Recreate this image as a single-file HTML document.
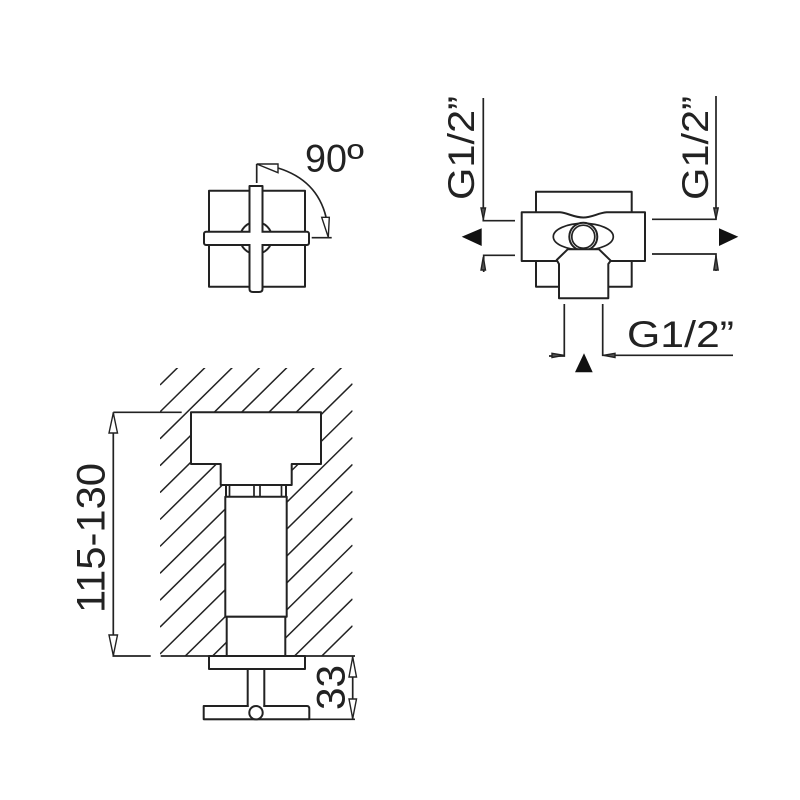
<!DOCTYPE html>
<html>
<head>
<meta charset="utf-8">
<style>
html,body{margin:0;padding:0;background:#fff}
svg{display:block}
text{font-family:"Liberation Sans",sans-serif;fill:#222}
.l{stroke:#222;stroke-width:1.7;fill:none}
.b{stroke:#222;stroke-width:2;fill:#fff;stroke-linejoin:round}
.t{stroke:#222;stroke-width:1.4;fill:#fff}
.h{stroke:#222;stroke-width:1.5}
</style>
</head>
<body>
<svg width="800" height="800" viewBox="0 0 800 800" xmlns="http://www.w3.org/2000/svg">
<defs><clipPath id="c"><rect x="160" y="368" width="192.500" height="288"/></clipPath></defs>

<!-- Top view handle -->
<rect class="b" x="209" y="190.700" width="96" height="96"/>
<circle class="b" cx="256" cy="238" r="16"/>
<path class="b" d="M249.500 186H262.500V289Q262.500 292 259 292H253Q249.500 292 249.500 289Z"/>
<rect class="b" x="204" y="231.700" width="105" height="13.300" rx="2"/>
<path fill="#fff" d="M250.500 230H261.500V246.500H250.500Z"/>
<path class="l" d="M256.700 183V164"/>
<path class="t" d="M256.700 164H278V172.700Z"/>
<path class="l" d="M278 168Q317 180 326 217"/>
<path class="t" d="M321.700 217.300H329.300L328.300 237.300Z"/>
<path class="l" d="M311.700 237.700H331.700"/>
<text x="305" y="171.700" font-size="39" textLength="42" lengthAdjust="spacingAndGlyphs">90</text>
<text x="347" y="171.700" font-size="39" textLength="17" lengthAdjust="spacingAndGlyphs">º</text>

<!-- Valve top right -->
<rect class="b" x="536" y="191.700" width="95.700" height="95"/>
<path class="b" d="M521.700 212.300H560C568 213 574 217.500 583.300 217.500C592 217.500 598 213 606.700 212.300H645V261H521.700Z"/>
<ellipse class="l" cx="583.300" cy="236.700" rx="30" ry="13.300"/>
<circle class="b" cx="583.300" cy="236.700" r="14"/>
<circle class="l" cx="583.300" cy="236.700" r="11.500"/>
<path class="b" d="M556.700 260L567.700 249.300H599L610.700 260.700L608.300 264V298.300H559V264Z"/>

<!-- Valve dimensions -->
<path class="l" d="M483.300 98V220.700H515"/>
<path class="l" d="M515 255.300H483.700V272"/>
<path class="t" style="fill:#555" d="M481 208L485.500 208L483.300 219Z"/>
<path class="t" style="fill:#555" d="M481 270L485.500 270L483.300 257Z"/>
<path d="M461.700 236.700L481.700 228.300V246Z" fill="#111"/>
<path class="l" d="M716 96V219.300H652"/>
<path class="l" d="M652 254H716V271"/>
<path class="t" style="fill:#555" d="M713.800 208L718.200 208L716 218.500Z"/>
<path class="t" style="fill:#555" d="M713.800 270L718.200 270L716 256Z"/>
<path d="M719 228.300L738.300 236.700L719 246Z" fill="#111"/>
<path class="l" d="M564.300 304V356H549"/>
<path class="t" style="fill:#555" d="M552 353.300V357.500L564 355.300Z"/>
<path class="l" d="M602.700 304V355.300H733"/>
<path class="t" style="fill:#555" d="M615 353.300V357.500L603.500 355.300Z"/>
<path d="M584 353.300L575 372.300H592.700Z" fill="#111"/>

<text x="627" y="347" font-size="37" textLength="107" lengthAdjust="spacingAndGlyphs">G1/2”</text>
<text transform="translate(474 200) rotate(-90)" font-size="37" textLength="104" lengthAdjust="spacingAndGlyphs">G1/2”</text>
<text transform="translate(708 200) rotate(-90)" font-size="37" textLength="104" lengthAdjust="spacingAndGlyphs">G1/2”</text>

<!-- Hatching -->
<g clip-path="url(#c)" class="h">
<line x1="160" y1="385" x2="352.500" y2="195.400"/>
<line x1="160" y1="411.900" x2="352.500" y2="222.300"/>
<line x1="160" y1="438.800" x2="352.500" y2="249.200"/>
<line x1="160" y1="465.700" x2="352.500" y2="276.100"/>
<line x1="160" y1="492.600" x2="352.500" y2="303"/>
<line x1="160" y1="519.500" x2="352.500" y2="329.900"/>
<line x1="160" y1="546.400" x2="352.500" y2="356.800"/>
<line x1="160" y1="573.300" x2="352.500" y2="383.700"/>
<line x1="160" y1="600.200" x2="352.500" y2="410.600"/>
<line x1="160" y1="627.100" x2="352.500" y2="437.500"/>
<line x1="160" y1="654" x2="352.500" y2="464.400"/>
<line x1="160" y1="680.900" x2="352.500" y2="491.300"/>
<line x1="160" y1="707.800" x2="352.500" y2="518.200"/>
<line x1="160" y1="734.700" x2="352.500" y2="545.100"/>
<line x1="160" y1="761.600" x2="352.500" y2="572"/>
<line x1="160" y1="788.500" x2="352.500" y2="598.900"/>
<line x1="160" y1="815.400" x2="352.500" y2="625.800"/>
</g>

<!-- Section body -->
<path class="b" d="M191 412.300H321V464H291.700V485H220.700V464H191Z"/>
<rect class="b" x="226" y="485" width="60" height="12"/>
<path class="l" d="M229.500 485V497M254 485V497M260 485V497M281.500 485V497"/>
<rect class="b" x="225.300" y="496.700" width="61.400" height="120"/>
<rect class="b" x="226.700" y="616.700" width="58.600" height="39.300"/>
<rect x="209" y="656" width="96" height="13" class="b"/>
<rect x="247.700" y="669" width="16.600" height="37" class="b"/>
<path class="b" d="M203.700 706H307Q309.300 706 309.300 709V719.300H203.700Z"/>
<path d="M248.800 705H263.200V707H248.800Z" fill="#fff"/>
<circle class="b" cx="256" cy="712.700" r="6.700"/>

<!-- Section dimensions -->
<path class="l" d="M113.300 412.300H181.700"/>
<path class="l" d="M113.300 412.300V656H150.700"/>
<path class="l" d="M160.700 656H355"/>
<path class="l" d="M203.700 719.300H355"/>
<path class="l" d="M352.700 656V719.300"/>
<path class="t" d="M113.300 413L109 433H117.500Z"/>
<path class="t" d="M113.300 655.500L109 635H117.500Z"/>
<path class="t" d="M352.700 657L349 677H356.500Z"/>
<path class="t" d="M352.700 718.500L349 699H356.500Z"/>
<text transform="translate(104.500 613) rotate(-90)" font-size="40" textLength="150" lengthAdjust="spacingAndGlyphs">115-130</text>
<text transform="translate(344.500 710) rotate(-90)" font-size="40" textLength="45" lengthAdjust="spacingAndGlyphs">33</text>
</svg>
</body>
</html>
